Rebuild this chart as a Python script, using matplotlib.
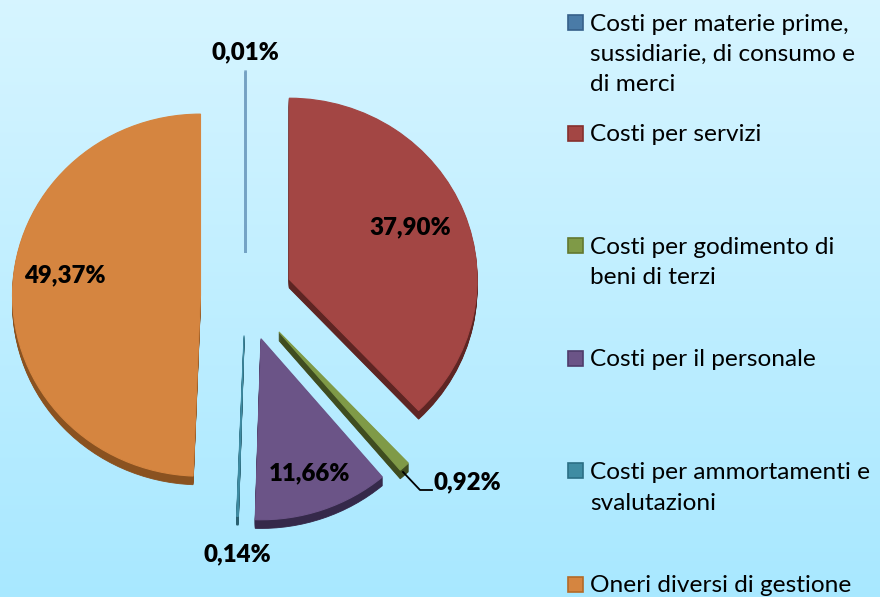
#!/usr/bin/env python3
import numpy as np
import matplotlib
matplotlib.use('Agg')
import matplotlib.pyplot as plt
from matplotlib.patches import Rectangle

plt.rcParams['font.family'] = ['Lato', 'DejaVu Sans']

# Data
categories = ['Costi per materie prime,\nsussidiarie, di consumo e\ndi merci',
              'Costi per servizi',
              'Costi per godimento di\nbeni di terzi',
              'Costi per il personale',
              'Costi per ammortamenti e\nsvalutazioni',
              'Oneri diversi di gestione']
values = [0.01, 37.90, 0.92, 11.66, 0.14, 49.37]
value_labels = ['0,01%', '37,90%', '0,92%', '11,66%', '0,14%', '49,37%']

colors = ['#4a7ba7', '#a34644', '#7f9a47', '#6b5487', '#3f8ca3', '#d58540']
dark_colors = ['#7fa6c6', '#5e2523', '#3f4d20', '#35294a', '#2a6070', '#8a5220']
swatch_edges = ['#36608a', '#85302e', '#62782f', '#4f3c6b', '#2b6f85', '#b36a28']
explode = [45, 47, 50, 47, 41, 45]

W, H = 880, 597
yscale = 0.963   # pie is a bit squashed vertically
cx, cy = 245.5, (H - 296) / yscale
radius = 188
depth = 9

# label positions in pixels from the top left
label_xy = [(245, 52), (410, 227), (467, 482), (310, 473), (237, 554), (65, 275)]
legend_y = [22, 134, 246, 358, 470, 584]
legend_text_y = [54.5, 135, 262.5, 359, 488, 585]

fig = plt.figure(figsize=(8.8, 5.97), dpi=100)
ax = fig.add_axes([0, 0, 1, 1])
ax_pie = fig.add_axes([0, 0, 1, 1])

# sky blue background
grad = np.linspace(0, 1, 256).reshape(-1, 1)
top = np.array([0.84, 0.96, 1.0])
bot = np.array([0.66, 0.91, 1.0])
bg = top + (bot - top) * grad[:, :, None]
ax.imshow(bg, extent=[0, W, 0, H], aspect='auto', zorder=0, origin='upper')
ax.set_xlim(0, W)
ax.set_ylim(0, H)
ax.axis('off')

# side walls, stacked copies of the pie moved down
for d in range(depth, 0, -1):
    w, _ = ax_pie.pie(values, explode=explode, colors=dark_colors, radius=radius, startangle=90,
                      counterclock=False, center=(cx, cy - d), normalize=True, frame=True)
    for p, c in zip(w, dark_colors):
        p.set_zorder(2)
        p.set_edgecolor(c)
        p.set_linewidth(0.6)
    w[0].set_visible(False)

w, _ = ax_pie.pie(values, explode=explode, colors=colors, radius=radius, startangle=90,
                  counterclock=False, center=(cx, cy), normalize=True, frame=True)
for p, c in zip(w, colors):
    p.set_zorder(3)
    p.set_edgecolor(c)
    p.set_linewidth(0.8)
w[0].set_linewidth(1.8)
w[0].set_alpha(0.65)

ax_pie.set_aspect('auto')
ax_pie.set_xlim(0, W)
ax_pie.set_ylim(0, H / yscale)
ax_pie.axis('off')

# data labels
for (x, y), s in zip(label_xy, value_labels):
    ax_pie.text(x, (H - y) / yscale, s, fontsize=17.3, fontweight='heavy', color='black',
                ha='center', va='center', zorder=5)

# leader line for the green slice
ax_pie.plot([403, 420, 432], [(H - 472) / yscale, (H - 490) / yscale, (H - 490) / yscale],
            color='black', lw=1.3, zorder=5)

# legend
for y, ty, s, c, ec in zip(legend_y, legend_text_y, categories, colors, swatch_edges):
    ax_pie.add_patch(Rectangle((568, (H - y - 7.5) / yscale), 15, 15 / yscale, facecolor=c, edgecolor=ec,
                               lw=1.2, zorder=5))
    ax_pie.text(590, (H - ty) / yscale, s, fontsize=17.6, color='black', ha='left', va='center',
                linespacing=1.55, zorder=5)

fig.savefig('out.png', dpi=100)
